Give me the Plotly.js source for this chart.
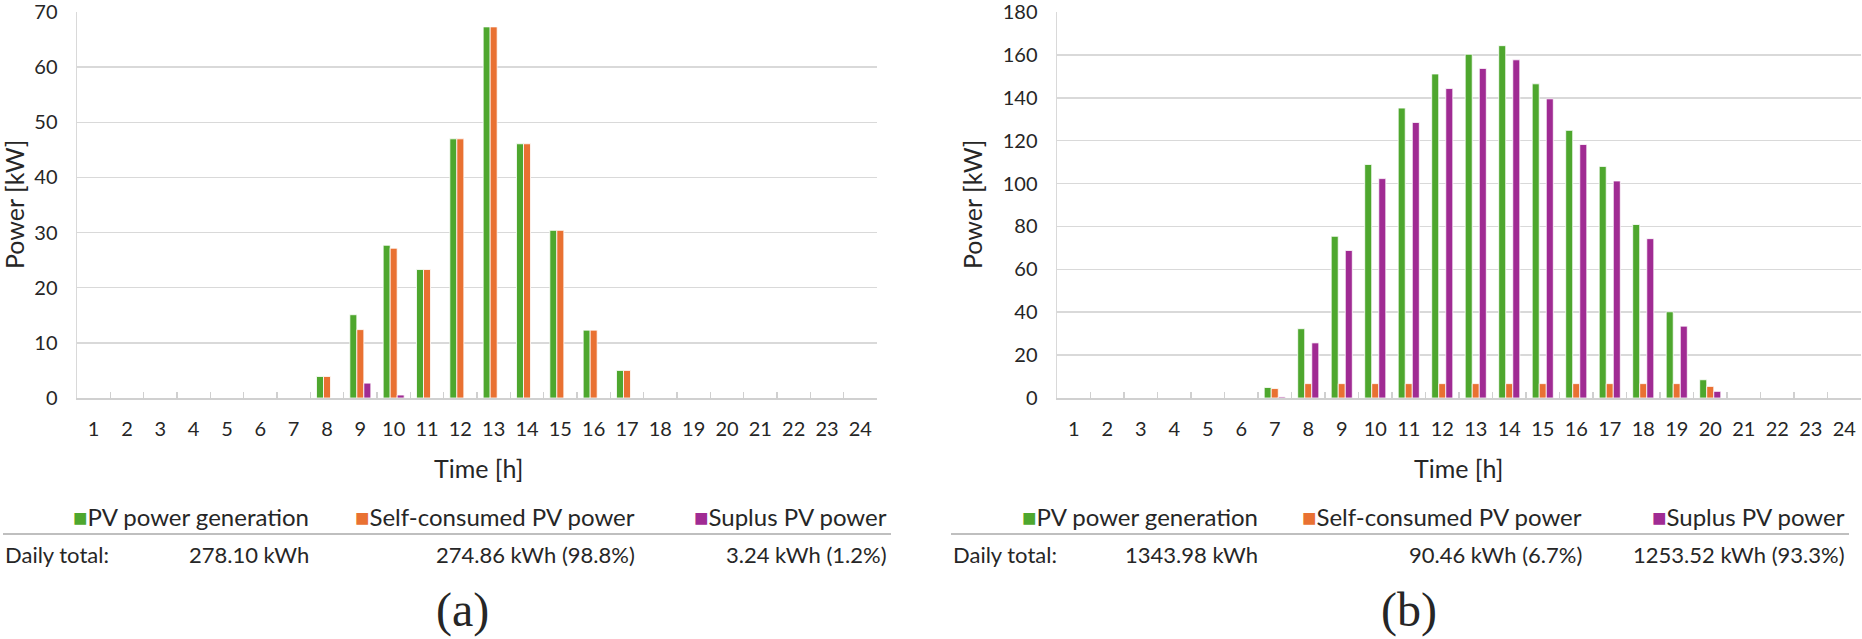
<!DOCTYPE html>
<html>
<head>
<meta charset="utf-8">
<script src="https://cdn.plot.ly/plotly-3.0.1.min.js"></script>
<style>
  html, body { margin: 0; padding: 0; background: #fff; }
  #chart { width: 1862px; height: 639px; }
</style>
</head>
<body>
<div id="chart"></div>
<script>
const hours = ['1','2','3','4','5','6','7','8','9','10','11','12','13','14','15','16','17','18','19','20','21','22','23','24'];
const seriesNames = ['PV power generation', 'Self-consumed PV power', 'Suplus PV power'];

// (a) hourly power [kW]
const genA     = [0,0,0,0,0,0,0,3.9,15.1,27.7,23.3,47.0,67.3,46.1,30.4,12.3,5.0,0,0,0,0,0,0,0];
const selfA    = [0,0,0,0,0,0,0,3.9,12.4,27.16,23.3,47.0,67.3,46.1,30.4,12.3,5.0,0,0,0,0,0,0,0];
const surplusA = [0,0,0,0,0,0,0,0,2.7,0.54,0,0,0,0,0,0,0,0,0,0,0,0,0,0];
const totalsA  = ['278.10 kWh', '274.86 kWh (98.8%)', '3.24 kWh (1.2%)'];

// (b) hourly power [kW]
const genB     = [0,0,0,0,0,0,4.9,32.3,75.4,108.9,135.2,151.1,160.3,164.3,146.5,124.8,108.0,80.9,40.2,8.5,0,0,0,0];
const selfB    = [0,0,0,0,0,0,4.4,6.7,6.7,6.7,6.7,6.7,6.7,6.7,6.7,6.7,6.7,6.7,6.7,5.4,0,0,0,0];
const surplusB = [0,0,0,0,0,0,0.5,25.7,68.8,102.3,128.5,144.3,153.7,157.7,139.5,118.2,101.2,74.3,33.5,3.1,0,0,0,0];
const totalsB  = ['1343.98 kWh', '90.46 kWh (6.7%)', '1253.52 kWh (93.3%)'];

const colors = ['#4ea72e', '#e97132', '#a02b93'];
const W = 1862, H = 639;
const FONT = 'Lato, "Open Sans", sans-serif';
const SERIF = '"Liberation Serif", "Times New Roman", serif';

// pixel -> paper helpers
const px = x => x / W;
const py = y => 1 - y / H;

function bars(values, i, xa, ya) {
  return {
    x: hours, y: values, type: 'bar', name: seriesNames[i],
    xaxis: xa, yaxis: ya, showlegend: false,
    marker: { color: colors[i], line: { color: '#ffffff', width: 0.8 } },
    hoverinfo: 'x+y'
  };
}

const data = [
  bars(genA, 0, 'x', 'y'), bars(selfA, 1, 'x', 'y'), bars(surplusA, 2, 'x', 'y'),
  bars(genB, 0, 'x2', 'y2'), bars(selfB, 1, 'x2', 'y2'), bars(surplusB, 2, 'x2', 'y2')
];

function xAxis(domain, anchor) {
  return {
    type: 'category', domain: domain, anchor: anchor,
    tickson: 'boundaries', ticks: 'inside', ticklen: 6, tickwidth: 1.5, tickcolor: '#d0d0d0',
    showline: true, linecolor: '#d0d0d0', linewidth: 2, showgrid: false,
    tickangle: 0, ticklabelstandoff: 12,
    tickfont: { family: FONT, size: 20, color: '#262626' },
    fixedrange: true
  };
}

function yAxis(domain, anchor, max, step) {
  return {
    domain: domain, anchor: anchor, range: [0, max], dtick: step,
    showgrid: true, gridcolor: '#d9d9d9', gridwidth: 1.5,
    showline: true, linecolor: '#d9d9d9', linewidth: 1.5, zeroline: false,
    ticks: '', ticklabelstandoff: 14, ticklabeloverflow: 'allow',
    tickfont: { family: FONT, size: 20, color: '#262626' },
    fixedrange: true
  };
}

const annotations = [];
const shapes = [];

function addText(text, x, y, anchor, size, family, angle) {
  annotations.push({
    text: text, xref: 'paper', yref: 'paper', x: px(x), y: py(y),
    xanchor: anchor, yanchor: 'middle', showarrow: false, textangle: angle || 0,
    font: { family: family || FONT, size: size, color: '#262626' }
  });
}

// axis titles
addText('Power [kW]', 14, 205, 'center', 25, FONT, -90);
addText('Time [h]', 478, 468, 'center', 25);
addText('Power [kW]', 972, 205, 'center', 25, FONT, -90);
addText('Time [h]', 1458, 468, 'center', 25);

// legend rows with daily totals, right aligned in columns
function legendBlock(colEnds, totals, lineStart, lineEnd) {
  for (let i = 0; i < 3; i++) {
    addText('<span style="color:' + colors[i] + '">■</span>' + seriesNames[i], colEnds[i], 516, 'right', 24);
    addText(totals[i], colEnds[i], 554, 'right', 22);
  }
  addText('Daily total:', lineStart, 554, 'left', 22);
  shapes.push({
    type: 'line', xref: 'paper', yref: 'paper',
    x0: px(lineStart), x1: px(lineEnd), y0: py(534), y1: py(534),
    line: { color: '#808080', width: 1.2 }
  });
}
legendBlock([311, 637, 889], totalsA, 3, 891);
legendBlock([1260, 1584, 1847], totalsB, 951, 1849);

// panel labels
addText('(a)', 462, 610, 'center', 48, SERIF);
addText('(b)', 1409, 610, 'center', 48, SERIF);

const layout = {
  width: W, height: H,
  margin: { l: 0, r: 0, t: 0, b: 0 },
  paper_bgcolor: '#ffffff', plot_bgcolor: '#ffffff',
  barmode: 'group', bargap: 0.37, bargroupgap: 0,
  xaxis: xAxis([px(77), px(877)], 'y'),
  yaxis: yAxis([py(398), py(12)], 'x', 70, 10),
  xaxis2: xAxis([px(1057), px(1861)], 'y2'),
  yaxis2: yAxis([py(398), py(12)], 'x2', 180, 20),
  annotations: annotations,
  shapes: shapes,
  showlegend: false
};

Plotly.newPlot('chart', data, layout, { displayModeBar: false, staticPlot: true });
</script>
</body>
</html>
